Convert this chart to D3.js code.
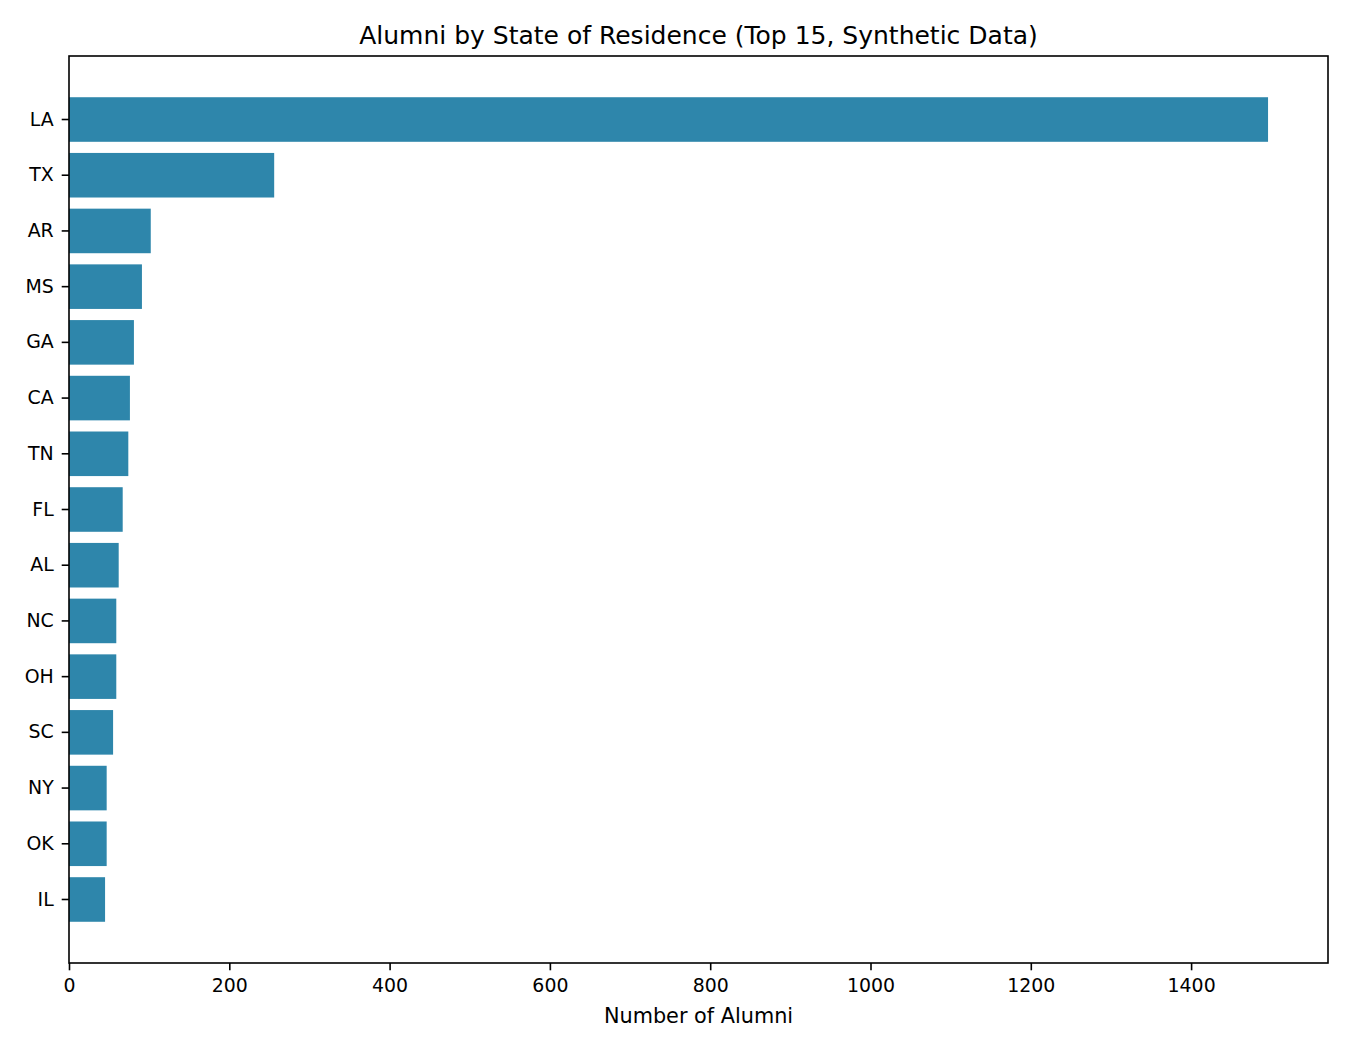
<!DOCTYPE html>
<html>
<head>
<meta charset="utf-8">
<script src="https://cdn.jsdelivr.net/npm/d3@7"></script>
<style>
  body { margin: 0; background: #fff; }
  svg text { font-family: "DejaVu Sans", sans-serif; fill: #000; }
  .tick line { stroke: #000; stroke-width: 1.6; }
  .domain { display: none; }
</style>
</head>
<body>
<div id="chart"></div>
<script>
// data (descending order, top to bottom)
const states = ['LA', 'TX', 'AR', 'MS', 'GA', 'CA', 'TN', 'FL', 'AL', 'NC', 'OH', 'SC', 'NY', 'OK', 'IL'];
const alumni = [1496, 256, 102, 91, 81, 76, 74, 67, 62, 59, 59, 55, 47, 47, 45];
const xTicks = [0, 200, 400, 600, 800, 1000, 1200, 1400];

const width = 1350, height = 1050;
const margin = { top: 56, right: 22, bottom: 87, left: 69 };
const chartWidth = width - margin.left - margin.right;
const chartHeight = height - margin.top - margin.bottom;

const svg = d3.select('#chart')
    .append('svg')
    .attr('width', width)
    .attr('height', height);

const chart = svg.append('g')
    .attr('transform', `translate(${margin.left}, ${margin.top})`);

// scales: matplotlib-style 5% margin on the x-axis
const maxVal = d3.max(alumni);
const scaleX = d3.scaleLinear([0, maxVal * 1.05], [0, chartWidth]);
const scaleY = d3.scaleBand(states, [0, chartHeight])
    .paddingInner(0.2)
    .paddingOuter(0.74);

// bars
chart.selectAll('rect.bar')
    .data(states.map((s, i) => [s, alumni[i]]))
    .join('rect')
    .classed('bar', true)
    .attr('x', scaleX(0))
    .attr('y', d => scaleY(d[0]))
    .attr('width', d => scaleX(d[1]) - scaleX(0))
    .attr('height', scaleY.bandwidth())
    .attr('fill', '#2E86AB');

// axes
const axisX = chart.append('g')
    .attr('transform', `translate(0, ${chartHeight})`)
    .call(d3.axisBottom(scaleX).tickValues(xTicks).tickFormat(d3.format('d')).tickSize(7.3).tickPadding(8.5));
axisX.selectAll('text').style('font-size', '18.9px');

const axisY = chart.append('g')
    .call(d3.axisLeft(scaleY).tickSize(7.3).tickPadding(8));
axisY.selectAll('text').style('font-size', '18.9px');

// frame
chart.append('rect')
    .attr('width', chartWidth)
    .attr('height', chartHeight)
    .attr('fill', 'none')
    .attr('stroke', '#000')
    .attr('stroke-width', 1.6);

// labels
svg.append('text')
    .attr('x', margin.left + chartWidth / 2)
    .attr('y', 43.5)
    .style('text-anchor', 'middle')
    .style('font-size', '25px')
    .text('Alumni by State of Residence (Top 15, Synthetic Data)');

svg.append('text')
    .attr('x', margin.left + chartWidth / 2)
    .attr('y', 1022.5)
    .style('text-anchor', 'middle')
    .style('font-size', '20.8px')
    .text('Number of Alumni');
</script>
</body>
</html>
